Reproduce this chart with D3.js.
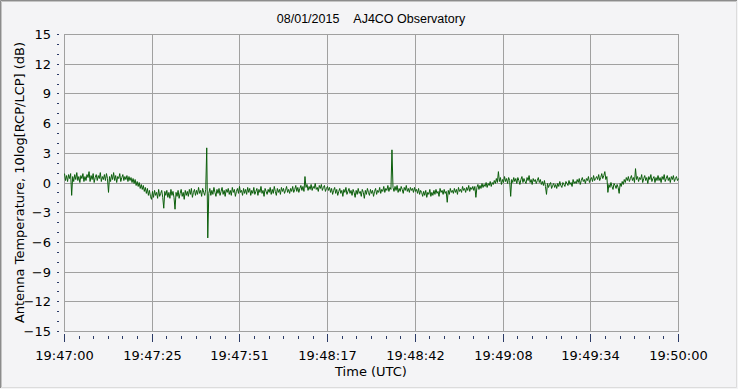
<!DOCTYPE html>
<html>
<head>
<meta charset="utf-8">
<script src="https://cdn.jsdelivr.net/npm/d3@7"></script>
<style>
  html, body { margin: 0; padding: 0; background: #f4f4f6; }
  svg { display: block; }
  text { font-family: "DejaVu Sans", sans-serif; fill: #000; }
</style>
</head>
<body>
<svg id="chart"></svg>
<script>
// Chart texts
var titleText = "08/01/2015\u00a0\u00a0\u00a0\u00a0AJ4CO Observatory";
var xLabel = "Time (UTC)";
var yLabel = "Antenna Temperature, 10log[RCP/LCP] (dB)";

// x axis: 7 equal steps over 180 s, labels as printed (seconds truncated)
var xSpan = 180;
var xTickLabels = ["19:47:00", "19:47:25", "19:47:51", "19:48:17", "19:48:42", "19:49:08", "19:49:34", "19:50:00"];
var xMinorPerMajor = 6;

// y axis
var yTicks = [-15, -12, -9, -6, -3, 0, 3, 6, 9, 12, 15];

// one sample every 0.3 s from 19:47:00, values in dB
var sampleStep = 0.3;
var ratioDb = [
    0.9, 0.2, 0.7, 0.1, 0.8, 0.4, 0.9, -1.3, 0.6, 0.1, 0.8, 0.3, 1.0, 0.2, 0.6, 0.0, 0.7, 0.4, 0.9, 0.1,
    0.6, 0.2, 0.8, 0.5, 1.1, 0.1, 0.7, 0.3, 0.9, 0.0, 0.5, 0.8, 0.2, 0.7, 0.4, 1.0, 0.1, 0.6, 0.3, 0.8,
    0.2, 0.9, 0.4, -1.0, 0.6, 0.1, 0.8, 0.3, 1.0, 0.2, 0.7, 0.0, 0.6, 0.4, 0.9, 0.1, 0.5, 0.8, 0.2, 0.6,
    0.3, 0.7, 0.1, 0.6, 0.2, 0.5, 0.0, 0.4, -0.1, 0.3, -0.3, 0.1, -0.4, 0.0, -0.6, -0.2, -0.7, -0.3, -0.9, -0.5,
    -1.1, -0.6, -1.3, -0.8, -1.4, -1.7, -0.9, -1.5, -0.8, -1.3, -1.0, -1.6, -0.7, -1.4, -1.1, -0.8, -1.5, -2.6, -0.9, -1.3,
    -0.8, -1.5, -1.0, -1.6, -0.7, -1.3, -0.9, -1.5, -2.7, -1.0, -1.4, -0.8, -1.6, -1.1, -0.7, -1.4, -1.0, -1.7, -0.8, -1.3,
    -0.9, -1.4, -0.7, -1.2, -0.6, -1.5, -1.0, -0.7, -1.3, -0.8, -1.2, -0.5, -1.1, -0.8, -1.4, -0.6, -1.0, -1.3, -0.7, 3.5,
    -5.6, -1.1, -0.6, -1.3, -0.8, -1.2, -0.5, -1.0, -1.4, -0.7, -1.1, -0.6, -1.3, -0.9, -0.5, -1.2, -0.8, -1.4, -0.7, -1.0,
    -0.6, -1.2, -0.8, -1.3, -0.5, -1.0, -0.7, -1.4, -0.9, -0.6, -1.1, -0.4, -1.0, -0.8, -1.3, -0.6, -1.1, -0.7, -1.2, -0.5,
    -1.0, -0.6, -1.3, -0.8, -1.1, -0.5, -1.2, -0.9, -0.6, -1.3, -0.7, -1.0, -0.4, -1.1, -0.8, -1.4, -0.6, -0.9, -1.2, -0.7,
    -1.0, -0.5, -1.2, -0.7, -1.1, -0.4, -0.9, -1.3, -0.6, -1.0, -0.7, -1.2, -0.5, -0.9, -0.6, -1.1, -0.8, -0.4, -1.0, -0.7,
    -1.1, -0.6, -0.9, -0.4, -1.0, -0.7, -0.3, -0.9, -0.5, -1.0, -0.6, -0.3, -0.8, -0.4, -0.9, 0.6, -0.5, -0.2, -0.8, -0.4,
    -0.7, -0.2, -0.8, -0.4, -0.6, -0.1, -0.7, -0.5, -0.9, -0.3, -0.6, -0.2, -0.8, -0.5, -0.3, -0.9, -0.6, -0.4, -0.8, -0.5,
    -1.0, -0.6, -1.2, -0.8, -0.5, -1.1, -0.7, -1.3, -0.9, -0.6, -1.1, -0.8, -1.4, -0.7, -1.0, -0.5, -1.2, -0.9, -0.6, -1.1,
    -0.8, -1.3, -0.7, -1.0, -1.5, -0.8, -1.2, -0.6, -1.1, -0.9, -1.4, -0.7, -1.0, -1.6, -0.8, -1.2, -0.6, -1.0, -1.3, -0.7,
    -1.1, -0.8, -1.4, -0.9, -0.6, -1.2, -0.8, -1.0, -0.5, -1.1, -0.7, -0.9, -0.4, -1.0, -0.6, -0.8, -0.3, -0.9, -0.5, -0.7,
    3.3, -0.5, -0.9, -0.4, -0.8, -0.3, -1.0, -0.6, -0.9, -0.4, -0.7, -1.1, -0.5, -0.8, -0.3, -0.9, -0.6, -1.0, -0.5, -0.8,
    -0.6, -1.0, -0.5, -0.9, -0.7, -1.1, -0.6, -1.2, -0.8, -1.0, -1.4, -0.9, -1.3, -0.8, -1.5, -1.0, -1.2, -0.7, -1.4, -1.0,
    -1.3, -0.8, -1.2, -0.7, -1.1, -0.9, -1.4, -0.6, -1.0, -0.8, -1.2, -0.7, -1.1, -0.9, -2.0, -0.8, -1.2, -0.6, -1.0, -0.8,
    -1.1, -0.6, -1.0, -0.7, -1.2, -0.5, -0.9, -0.7, -1.0, -0.4, -0.8, -0.6, -1.0, -0.5, -0.8, -0.3, -0.9, -0.5, -0.7, -0.4,
    -0.8, -0.4, -1.5, -0.5, -0.2, -0.7, -0.3, -0.6, -0.1, -0.5, -0.2, -0.4, 0.0, -0.5, -0.1, -0.3, 0.1, -0.4, 0.0, -0.2,
    0.2, -0.1, 0.4, 0.0, 1.1, 0.1, 0.5, -0.2, 0.3, 0.0, 0.6, 0.1, 0.4, -0.1, 0.5, 0.2, -1.4, 0.3, 0.0, 0.5,
    0.1, 0.4, -0.1, 0.5, 0.2, -0.2, 0.3, 0.6, 0.0, 0.4, 0.1, -0.1, 0.5, 0.2, 0.7, 0.0, 0.3, -0.2, 0.4, 0.1,
    0.3, -0.1, 0.2, 0.5, 0.0, 0.3, -0.2, 0.1, -0.3, 0.2, -0.4, -1.2, -0.1, -0.5, -0.2, 0.0, -0.6, -0.3, -0.1, -0.5,
    -0.2, -0.6, -0.1, -0.4, 0.1, -0.3, -0.5, 0.0, -0.2, -0.4, 0.1, -0.1, -0.3, 0.2, -0.2, 0.0, -0.4, 0.3, -0.1, 0.1,
    -0.1, 0.3, 0.0, 0.4, -0.2, 0.2, 0.5, 0.1, 0.3, -0.1, 0.4, 0.2, 0.6, 0.0, 0.3, 0.5, 0.1, 0.7, 0.2, 0.4,
    0.6, 0.3, 0.8, 0.2, 0.5, 0.9, 0.4, 0.7, 1.1, 0.3, 0.6, -1.0, -0.2, -0.5, 0.0, -0.4, -0.7, -0.1, -0.3, -0.6,
    -0.2, -0.5, -1.1, -0.1, -0.4, 0.1, -0.2, 0.3, 0.0, 0.5, 0.2, 0.6, 0.1, 0.4, 0.7, 0.2, 0.5, 0.0, 1.4, 0.3,
    0.6, 0.1, 0.5, 0.3, 0.8, 0.0, 0.4, 0.7, 0.2, 0.5, -0.1, 0.6, 0.3, 0.8, 0.1, 0.4, 0.6, 0.0, 0.5, 0.2,
    0.7, 0.2, 0.5, 0.0, 0.6, 0.3, 0.8, 0.1, 0.4, 0.7, 0.2, 0.5, 0.0, 0.6, 0.3, 0.7, 0.1, 0.4, 0.6, 0.2, 0.4
];

// Size of the picture and the plot box
var width = 738, height = 389;
var plot = { left: 64, top: 34, right: 678, bottom: 331 };
var gridColor = "#a0a0a0", tickColor = "#2b3a66", lineColor = "#0b5e0b";

var svg = d3.select("#chart").attr("width", width).attr("height", height);

// sunken window frame
svg.append("rect").attr("width", width).attr("height", height).attr("fill", "#f4f4f6");
svg.append("path").attr("d", "M0.5," + (height - 1) + "V0.5H" + (width - 1))
    .attr("fill", "none").attr("stroke", "#8c8c8c");
svg.append("path").attr("d", "M1.5," + (height - 2) + "V1.5H" + (width - 2))
    .attr("fill", "none").attr("stroke", "#c4c4c4");
svg.append("path").attr("d", "M" + (width - 1.5) + ",1V" + (height - 1.5) + "H1")
    .attr("fill", "none").attr("stroke", "#dcdcdc");

// scales
var xScale = d3.scaleLinear().domain([0, xSpan]).rangeRound([plot.left, plot.right]);
var yScale = d3.scaleLinear().domain([-15, 15]).rangeRound([plot.bottom, plot.top]);
// unrounded copies for the trace
var xLine = xScale.copy().interpolate(d3.interpolateNumber);
var yLine = yScale.copy().interpolate(d3.interpolateNumber);

var xMajor = xTickLabels.map(function (d, i) { return i * xSpan / (xTickLabels.length - 1); });
var xMinor = [];
xMajor.slice(1).forEach(function (v, i) {
    for (var k = 1; k < xMinorPerMajor; k++) {
        xMinor.push(xMajor[i] + (v - xMajor[i]) * k / xMinorPerMajor);
    }
});
var yMinor = d3.range(-15, 16).filter(function (v) { return yTicks.indexOf(v) < 0; });

// grid
var grid = svg.append("g").attr("stroke", gridColor).attr("shape-rendering", "crispEdges");
grid.selectAll(".hgrid").data(yTicks.slice(1, -1)).enter().append("line")
    .attr("x1", plot.left).attr("x2", plot.right)
    .attr("y1", function (d) { return yScale(d) + 0.5; })
    .attr("y2", function (d) { return yScale(d) + 0.5; });
grid.selectAll(".vgrid").data(xMajor.slice(1, -1)).enter().append("line")
    .attr("y1", plot.top).attr("y2", plot.bottom)
    .attr("x1", function (d) { return xScale(d) + 0.5; })
    .attr("x2", function (d) { return xScale(d) + 0.5; });
grid.append("rect")
    .attr("x", plot.left + 0.5).attr("y", plot.top + 0.5)
    .attr("width", plot.right - plot.left).attr("height", plot.bottom - plot.top)
    .attr("fill", "none");

// data trace
var line = d3.line()
    .x(function (d, i) { return xLine(i * sampleStep); })
    .y(function (d) { return yLine(d); });
svg.append("path")
    .datum(ratioDb)
    .attr("d", line)
    .attr("fill", "none")
    .attr("stroke", lineColor)
    .attr("stroke-width", 1)
    .attr("transform", "translate(0.5,0)");

// x axis, major and minor ticks
svg.append("g")
    .attr("transform", "translate(0," + (plot.bottom + 3) + ")")
    .call(d3.axisBottom(xScale).tickValues(xMajor)
        .tickFormat(function (d, i) { return xTickLabels[i]; })
        .tickSize(8).tickSizeOuter(0).tickPadding(9));
svg.append("g")
    .attr("transform", "translate(0," + (plot.bottom + 5) + ")")
    .call(d3.axisBottom(xScale).tickValues(xMinor).tickFormat("").tickSize(3).tickSizeOuter(0));

// y axis, major and minor ticks
svg.append("g")
    .attr("transform", "translate(" + (plot.left - 7) + ",0)")
    .call(d3.axisLeft(yScale).tickValues(yTicks).tickSize(-2).tickSizeOuter(0).tickPadding(6));
svg.append("g")
    .attr("transform", "translate(" + (plot.left - 7) + ",0)")
    .call(d3.axisLeft(yScale).tickValues(yMinor).tickFormat("").tickSize(-2).tickSizeOuter(0));

svg.selectAll(".domain").remove();
svg.selectAll(".tick line").attr("stroke", tickColor);
svg.selectAll(".tick text")
    .attr("font-family", "DejaVu Sans").attr("font-size", 13).attr("fill", "#000");

// titles
svg.append("text")
    .attr("x", (plot.left + plot.right) / 2).attr("y", 23)
    .attr("text-anchor", "middle")
    .style("font-family", "'Liberation Sans', Arial, sans-serif")
    .style("font-size", "12.5px")
    .text(titleText);
svg.append("text")
    .attr("x", (plot.left + plot.right) / 2).attr("y", 376)
    .attr("text-anchor", "middle")
    .style("font-size", "13px")
    .text(xLabel);
svg.append("text")
    .attr("transform", "translate(24," + ((plot.top + plot.bottom) / 2) + ") rotate(-90)")
    .attr("text-anchor", "middle")
    .style("font-size", "13px")
    .text(yLabel);
</script>
</body>
</html>
